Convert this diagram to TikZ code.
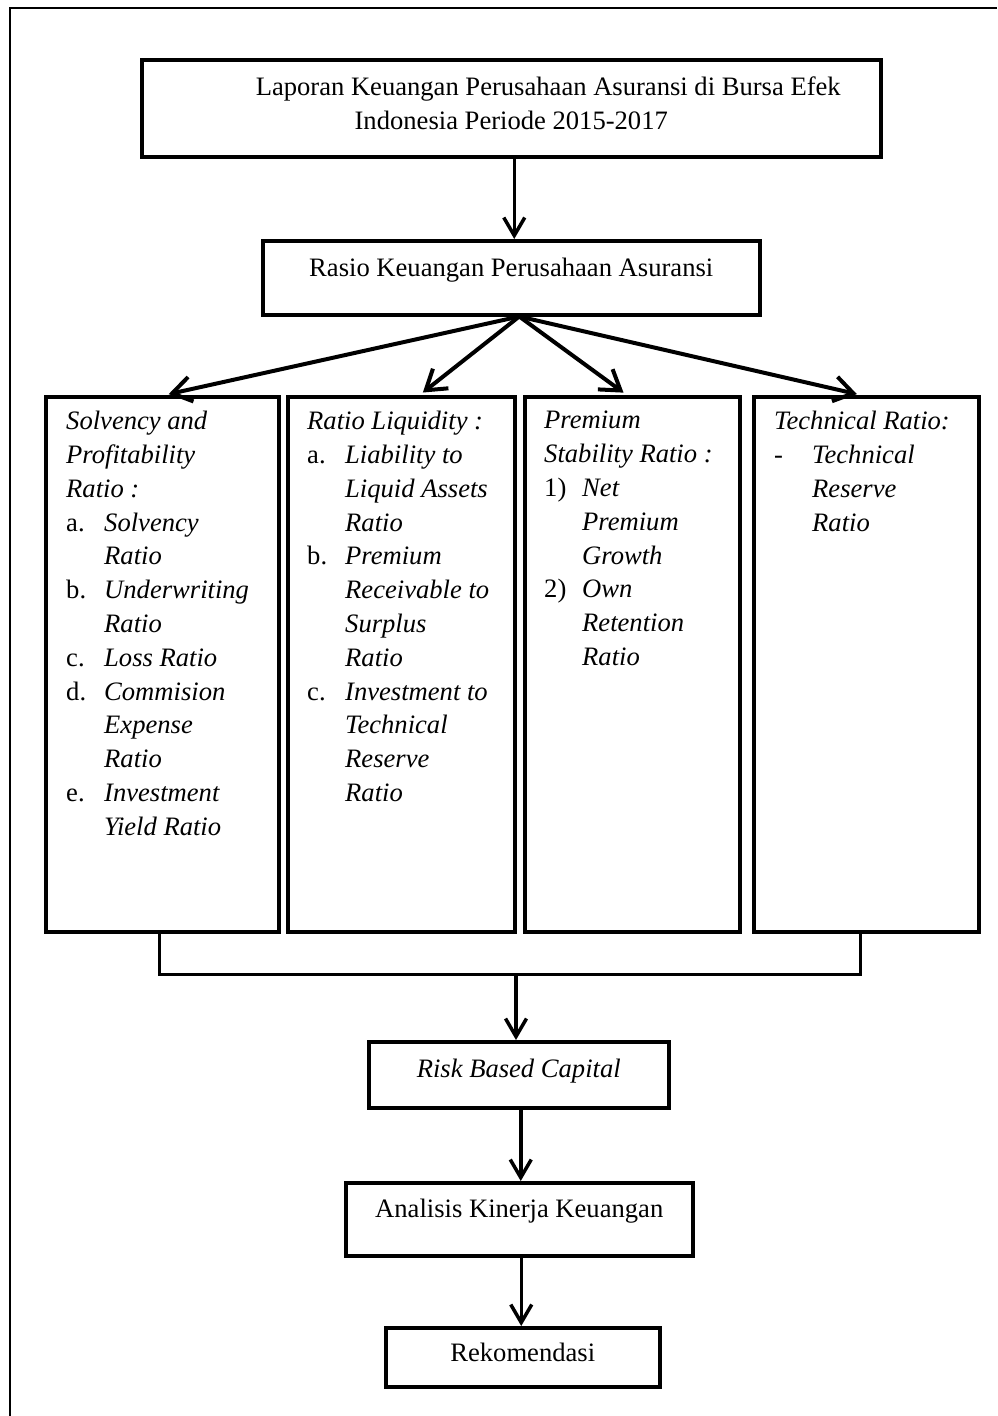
\documentclass[tikz,border=0pt]{standalone}
\usepackage{fontspec}
\setmainfont{Liberation Serif}
\usetikzlibrary{arrows.meta}
\newcommand\lbl[2]{\makebox[38pt][l]{#1}\textit{#2}}
\newcommand\cnt[1]{\hspace*{38pt}\textit{#1}}
\tikzset{
  box/.style={draw, line width=3.5pt, inner sep=0pt, anchor=north west},
  txt/.style={inner sep=0pt, anchor=north west, align=left, font=\fontsize{26.6pt}{33.8pt}\selectfont},
  ctxt/.style={font=\fontsize{26.6pt}{33.8pt}\selectfont, align=center},
  arr/.style={line width=3.5pt, -{Straight Barb[length=18pt,width=21pt]}},
  fan/.style={line width=4pt, -{Straight Barb[length=19pt,width=25pt]}, shorten >=4pt},
  link/.style={line width=3pt},
}
\begin{document}
\begin{tikzpicture}[x=1pt,y=-1pt]
\useasboundingbox (0,0) rectangle (997,1416);
% outer frame (left and top only)
\draw[line width=1.6pt] (10,1416) -- (10,8) -- (997,8);

% top box
\node[box, ctxt, minimum width=739pt, minimum height=97pt, text depth=10pt] (top) at (140,58)
  {\hspace*{74pt}Laporan Keuangan Perusahaan Asuransi di Bursa Efek\\Indonesia Periode 2015-2017};
% rasio box
\node[box, ctxt, minimum width=497pt, minimum height=74pt, text depth=20pt] (rasio) at (261,239)
  {Rasio Keuangan Perusahaan Asuransi};

% four tall boxes
\node[box, minimum width=233pt, minimum height=535pt] (b1) at (44,395) {};
\node[box, minimum width=227pt, minimum height=535pt] (b2) at (286,395) {};
\node[box, minimum width=215pt, minimum height=535pt] (b3) at (523,395) {};
\node[box, minimum width=225pt, minimum height=535pt] (b4) at (752,395) {};

\node[txt] (t1) at (66,411) {%
\textit{Solvency and}\\
\textit{Profitability}\\
\textit{Ratio :}\\
\lbl{a.}{Solvency}\\
\cnt{Ratio}\\
\lbl{b.}{Underwriting}\\
\cnt{Ratio}\\
\lbl{c.}{Loss Ratio}\\
\lbl{d.}{Commision}\\
\cnt{Expense}\\
\cnt{Ratio}\\
\lbl{e.}{Investment}\\
\cnt{Yield Ratio}};

\node[txt] (t2) at (307,411) {%
\textit{Ratio Liquidity :}\\
\lbl{a.}{Liability to}\\
\cnt{Liquid Assets}\\
\cnt{Ratio}\\
\lbl{b.}{Premium}\\
\cnt{Receivable to}\\
\cnt{Surplus}\\
\cnt{Ratio}\\
\lbl{c.}{Investment to}\\
\cnt{Technical}\\
\cnt{Reserve}\\
\cnt{Ratio}};

\node[txt] (t3) at (544,411) {%
\textit{Premium}\\
\textit{Stability Ratio :}\\
\lbl{1)}{Net}\\
\cnt{Premium}\\
\cnt{Growth}\\
\lbl{2)}{Own}\\
\cnt{Retention}\\
\cnt{Ratio}};

\node[txt] (t4) at (774,411) {%
\textit{Technical Ratio:}\\
\lbl{-}{Technical}\\
\cnt{Reserve}\\
\cnt{Ratio}};

% lower boxes
\node[box, ctxt, minimum width=300pt, minimum height=66pt, text depth=12pt] (rbc) at (367,1040)
  {\textit{Risk Based Capital}};
\node[box, ctxt, minimum width=347pt, minimum height=73pt, text depth=22pt] (ana) at (344,1181)
  {Analisis Kinerja Keuangan};
\node[box, ctxt, minimum width=274pt, minimum height=59pt, text depth=10pt] (rek) at (384,1326)
  {Rekomendasi};

% connectors
\draw[arr] ([xshift=3pt]top.south) -- ([xshift=3pt]top.south |- rasio.north);
\coordinate (fo) at ([xshift=8pt]rasio.south);
\draw[fan] (fo) -- ([xshift=2.5pt]b1.north);
\draw[fan] (fo) -- ([xshift=18.5pt]b2.north);
\draw[fan] (fo) -- ([xshift=-5.5pt]b3.north);
\draw[fan] (fo) -- ([xshift=-5.5pt]b4.north);

\coordinate (j) at (516,974);
\draw[link] ([xshift=-3pt]b1.south) |- (j);
\draw[link] ([xshift=-5.5pt]b4.south) |- (j);
\draw[arr] (j) -- (j |- rbc.north);
\draw[arr] ([xshift=2pt]rbc.south) -- ([xshift=2pt]rbc.south |- ana.north);
\draw[arr] ([xshift=2pt]ana.south) -- ([xshift=2pt]ana.south |- rek.north);
\end{tikzpicture}
\end{document}
